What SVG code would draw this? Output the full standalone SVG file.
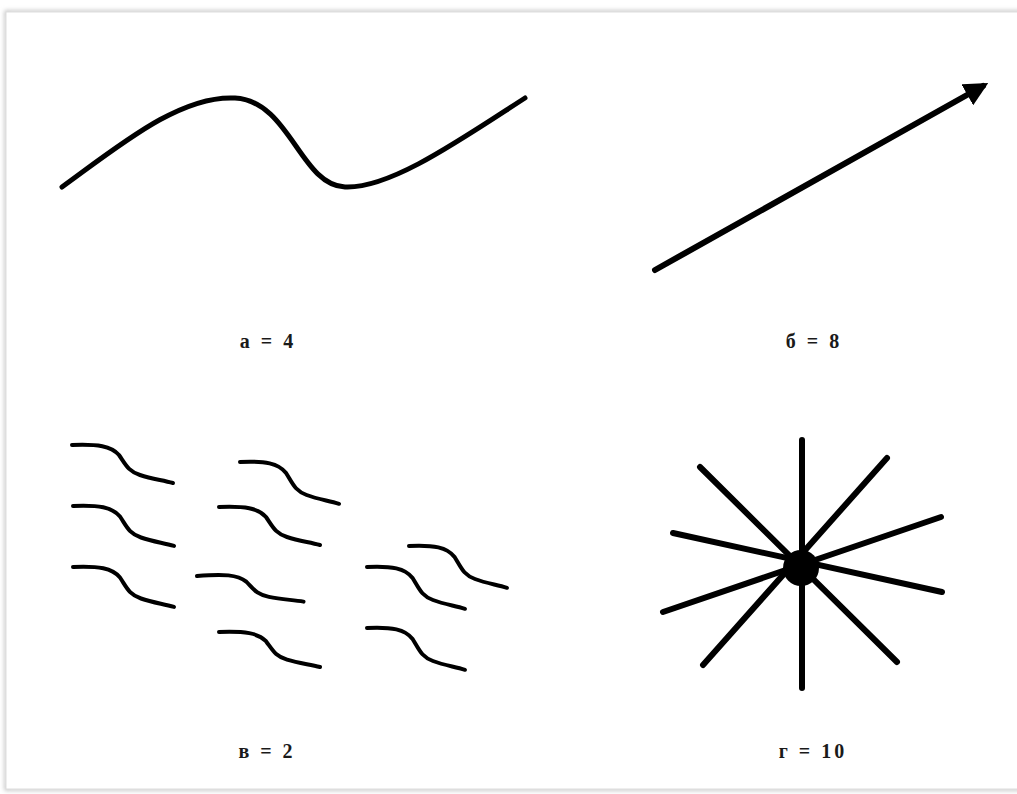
<svg xmlns="http://www.w3.org/2000/svg" width="1017" height="794" viewBox="0 0 1017 794">
<style>
.ln{fill:none;stroke:#000;stroke-linecap:round;stroke-linejoin:round}
.w{stroke-width:5}
.sq{stroke-width:4}
.lbl{font-family:"Liberation Serif","DejaVu Serif",serif;font-weight:bold;font-size:20px;fill:#1a1a1a;text-anchor:middle;letter-spacing:3px}
</style>
<defs>
<path id="sq" vector-effect="non-scaling-stroke" d="M0,0 C26,-1 39,1 47,10 C54,20 56,26 68,30 C80,34 90,35 101,38"/>
<marker id="ah" markerWidth="4" markerHeight="4" refX="3" refY="2" orient="auto" markerUnits="strokeWidth">
<path d="M0,0 L4,2 L0,4 Z" fill="#000"/>
</marker>
<filter id="sh" x="-5%" y="-5%" width="110%" height="110%"><feGaussianBlur stdDeviation="2"/></filter>
</defs>
<rect width="1017" height="794" fill="#fff"/>
<rect x="6" y="12" width="1020" height="777" fill="none" stroke="#bbb" stroke-width="3" filter="url(#sh)"/>
<rect x="6" y="12" width="1020" height="777" fill="#fff" stroke="#ddd" stroke-width="1"/>

<g id="panel-a">
<path class="ln w" d="M62,187 C120,145 180,95 235,98 C290,101 300,185 345,187 C390,189 460,140 525,98"/>
<text class="lbl" x="268" y="348">а = 4</text>
</g>

<g id="panel-b">
<line class="ln" stroke-width="6" x1="655" y1="270" x2="983" y2="86" marker-end="url(#ah)"/>
<text class="lbl" x="814" y="348">б = 8</text>
</g>

<g id="panel-v">
<g class="ln sq">
<use href="#sq" transform="translate(72,445)"/>
<use href="#sq" transform="translate(73,506) scale(1,1.05)"/>
<use href="#sq" transform="translate(73,567) scale(1,1.05)"/>
<use href="#sq" transform="translate(240,462) scale(0.98,1.1)"/>
<use href="#sq" transform="translate(219,507)"/>
<use href="#sq" transform="translate(197,576) rotate(-3) scale(1.04,0.82)"/>
<use href="#sq" transform="translate(219,632) scale(1,0.92)"/>
<use href="#sq" transform="translate(409,546) scale(0.97,1.1)"/>
<use href="#sq" transform="translate(367,567) scale(0.97,1.1)"/>
<use href="#sq" transform="translate(367,628) scale(0.97,1.1)"/>
</g>
<text class="lbl" x="267" y="758">в = 2</text>
</g>

<g id="panel-g">
<g class="ln" stroke-width="6">
<line x1="802" y1="440" x2="802" y2="688"/>
<line x1="700" y1="467" x2="897" y2="662"/>
<line x1="887" y1="458" x2="703" y2="665"/>
<line x1="673" y1="533" x2="942" y2="592"/>
<line x1="941" y1="517" x2="663" y2="612"/>
</g>
<circle cx="801" cy="568" r="18" fill="#000"/>
<text class="lbl" x="813" y="758">г = 10</text>
</g>
</svg>
